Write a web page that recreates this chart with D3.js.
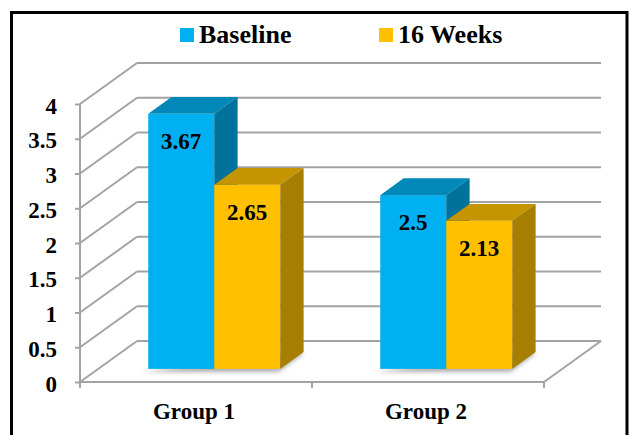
<!DOCTYPE html>
<html>
<head>
<meta charset="utf-8">
<script src="https://cdnjs.cloudflare.com/ajax/libs/d3/7.8.5/d3.min.js"></script>
<style>
  html, body { margin: 0; padding: 0; background: #fff; }
  svg { display: block; }
  text { font-family: "Liberation Serif", "Times New Roman", serif; font-weight: bold; fill: #000; }
</style>
</head>
<body>
<svg id="chart" width="630" height="435"></svg>
<script>
// ---- data ----
const groups = ["Group 1", "Group 2"];
const seriesNames = ["Baseline", "16 Weeks"];
const baselineValues = [3.67, 2.5];
const weeks16Values = [2.65, 2.13];
const yTickValues = [0, 0.5, 1, 1.5, 2, 2.5, 3, 3.5, 4];
const yTickLabels = ["0", "0.5", "1", "1.5", "2", "2.5", "3", "3.5", "4"];

const seriesValues = [baselineValues, weeks16Values];
const frontColors = ["#00B0F0", "#FFC000"];
const topColors = ["#0088B9", "#C59500"];
const sideColors = ["#00729B", "#A67E00"];

// ---- layout ----
const svg = d3.select("#chart");
const DX = 57, DY = -41;          // full depth offset of the 3D floor
const f0 = 0.32, f1 = 0.73;       // bar depth range (fraction of full depth)

const y = d3.scaleLinear().domain([0, 4]).range([382, 104]);
const x = d3.scaleBand().domain(groups).range([80, 544]).paddingInner(0.431).paddingOuter(0.2155);
const xs = d3.scaleBand().domain(seriesNames).range([0, x.bandwidth()]).padding(0);

// outer border
svg.append("rect").attr("x", 11.5).attr("y", 12.5).attr("width", 615.5).attr("height", 440)
  .attr("fill", "none").attr("stroke", "#000").attr("stroke-width", 3);

// defs: shadow blur
const defs = svg.append("defs");
defs.append("filter").attr("id", "blur").attr("x", "-20%").attr("y", "-50%").attr("width", "140%").attr("height", "200%")
  .append("feGaussianBlur").attr("stdDeviation", 2.2);

// ---- grid (back wall + side wall) ----
const grid = svg.append("g").attr("stroke", "#A3A3A3").attr("stroke-width", 2).attr("fill", "none");
yTickValues.forEach(v => {
  grid.append("line").attr("x1", 80).attr("y1", y(v)).attr("x2", 80 + DX).attr("y2", y(v) + DY);
  grid.append("line").attr("x1", 80 + DX).attr("y1", y(v) + DY).attr("x2", 544 + DX).attr("y2", y(v) + DY);
});
grid.append("line").attr("x1", 80).attr("y1", y(0)).attr("x2", 544).attr("y2", y(0));
grid.append("line").attr("x1", 544).attr("y1", y(0)).attr("x2", 544 + DX).attr("y2", y(0) + DY);

// ---- y axis ----
const yAxis = svg.append("g").attr("transform", "translate(80,0)")
  .call(d3.axisLeft(y).tickValues(yTickValues).tickSize(5).tickPadding(18)
    .tickFormat((d, i) => yTickLabels[i]));
yAxis.select(".domain").attr("stroke", "#A3A3A3").attr("stroke-width", 2).attr("d", `M0,${y(4)}V${y(0)}`);
yAxis.selectAll(".tick line").attr("stroke", "#A3A3A3").attr("stroke-width", 2);
yAxis.selectAll(".tick text").attr("dy", null).attr("y", 9)
  .style("font-size", "23px").style("font-family", "'Liberation Serif', serif").style("font-weight", "bold")
  .attr("fill", "#000");

// ---- x axis ----
const xAxis = svg.append("g").attr("transform", `translate(0,${y(0)})`)
  .call(d3.axisBottom(x).tickSize(0).tickPadding(22));
xAxis.select(".domain").remove();
xAxis.selectAll(".tick").attr("transform", d => `translate(${x(d) + x.bandwidth() / 2 - 2},0)`);
xAxis.selectAll(".tick text").attr("dy", null).attr("y", 37)
  .style("font-size", "23px").style("font-family", "'Liberation Serif', serif").style("font-weight", "bold")
  .attr("fill", "#000");
const boundaries = [x.range()[0], (x(groups[0]) + x.bandwidth() + x(groups[1])) / 2, x.range()[1]];
svg.append("g").selectAll("line").data(boundaries).join("line")
  .attr("x1", d => d).attr("x2", d => d).attr("y1", y(0)).attr("y2", y(0) + 6)
  .attr("stroke", "#A3A3A3").attr("stroke-width", 2);

// ---- bars ----
const sx0 = f0 * DX, sy0 = f0 * DY;
const bdx = (f1 - f0) * DX, bdy = (f1 - f0) * DY;

const barsData = [];
groups.forEach((g, gi) => {
  seriesNames.forEach((s, si) => {
    const v = seriesValues[si][gi];
    const xa = x(g) + xs(s) + sx0;
    const xb = xa + xs.bandwidth();
    barsData.push({ g, s, si, v, xa, xb, yt: y(v) + sy0, yb: y(0) + sy0 });
  });
});

const shadowG = svg.append("g").attr("filter", "url(#blur)");
groups.forEach(g => {
  const xa = x(g) + sx0, xb = xa + x.bandwidth(), yb = y(0) + sy0;
  shadowG.append("polygon")
    .attr("points", [[xa - 6, yb + 3], [xb - 2, yb + 3], [xb + bdx - 2, yb + bdy + 3], [xb + bdx, yb + bdy]].map(p => p.join(",")).join(" "))
    .attr("fill", "#8c8c8c").attr("opacity", 0.7);
});

const barG = svg.append("g").selectAll("g").data(barsData).join("g");
barG.append("rect")
  .attr("x", d => d.xa).attr("y", d => d.yt)
  .attr("width", d => d.xb - d.xa).attr("height", d => d.yb - d.yt)
  .attr("fill", d => frontColors[d.si]);
barG.append("polygon")
  .attr("points", d => [[d.xa, d.yt], [d.xb, d.yt], [d.xb + bdx, d.yt + bdy], [d.xa + bdx, d.yt + bdy]].map(p => p.join(",")).join(" "))
  .attr("fill", d => topColors[d.si]);
barG.append("polygon")
  .attr("points", d => [[d.xb, d.yt], [d.xb + bdx, d.yt + bdy], [d.xb + bdx, d.yb + bdy], [d.xb, d.yb]].map(p => p.join(",")).join(" "))
  .attr("fill", d => sideColors[d.si]);

svg.append("g").selectAll("text").data(barsData).join("text")
  .attr("x", d => (d.xa + d.xb) / 2).attr("y", d => d.yt + 35)
  .attr("text-anchor", "middle").style("font-size", "23px")
  .text(d => d.v);

// ---- legend ----
const legendX = [180, 379];
const legend = svg.append("g").selectAll("g").data(seriesNames).join("g")
  .attr("transform", (d, i) => `translate(${legendX[i]},28)`);
legend.append("rect").attr("width", 14).attr("height", 14).attr("fill", (d, i) => frontColors[i]);
legend.append("text").attr("x", 19).attr("y", 14.5).style("font-size", "26px").text(d => d);
</script>
</body>
</html>
